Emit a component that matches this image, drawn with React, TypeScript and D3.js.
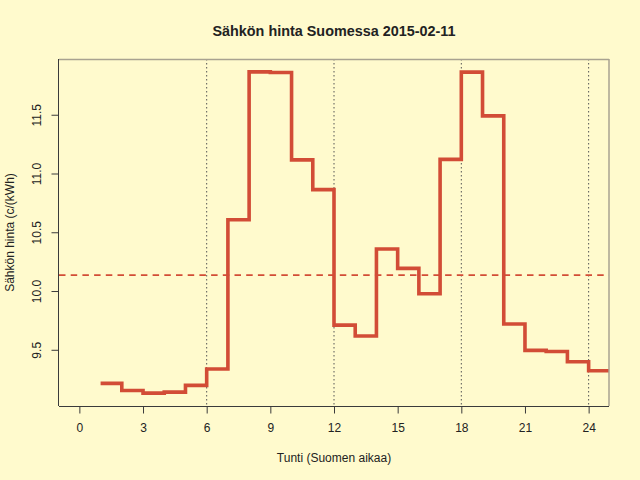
import React from 'react';
import * as d3 from 'd3';

// tunnit 1..24 ja hinta c/kWh
var hours = [1, 2, 3, 4, 5, 6, 7, 8, 9, 10, 11, 12, 13, 14, 15, 16, 17, 18, 19, 20, 21, 22, 23, 24];
var prices = [9.214, 9.154, 9.131, 9.140, 9.197, 9.336, 10.607, 11.865, 11.860, 11.116, 10.863, 9.710,
              9.617, 10.358, 10.193, 9.977, 11.120, 11.863, 11.490, 9.719, 9.495, 9.486, 9.398, 9.321];
var xTicks = [0, 3, 6, 9, 12, 15, 18, 21, 24];
var yTicks = [9.5, 10.0, 10.5, 11.0, 11.5];
var gridHours = [6, 12, 18, 24];

var titleText = 'Sähkön hinta Suomessa 2015-02-11';
var xLabel = 'Tunti (Suomen aikaa)';
var yLabel = 'Sähkön hinta (c/(kWh)';

class App extends React.Component {
    constructor(props: any) {
        super(props);
        this.createChart = this.createChart.bind(this);
    }

    componentDidMount() {
        this.createChart();
    }

    createChart() {
        var width = 640,
            height = 480,
            font = '"Liberation Sans", Arial, Helvetica, sans-serif',
            ink = '#222222',
            lineColor = '#d24c36';

        var margin = { left: 59, right: 31, top: 59, bottom: 74 };
        var x0 = margin.left, x1 = width - margin.right;
        var y0 = height - margin.bottom, y1 = margin.top;

        // R-tyylinen 4% laajennus
        var xr = [0, 24];
        var xpad = (xr[1] - xr[0]) * 0.04;
        var x = d3.scaleLinear().domain([xr[0] - xpad, xr[1] + xpad]).range([x0, x1]);

        var ext: any = d3.extent(prices);
        var ypad = (ext[1] - ext[0]) * 0.04;
        var y = d3.scaleLinear().domain([ext[0] - ypad, ext[1] + ypad]).range([y0, y1]);

        var svg = d3.select('#hintaChart').append('svg')
            .attr('width', width)
            .attr('height', height)
            .attr('viewBox', '0 0 ' + width + ' ' + height)
            .style('display', 'block');

        svg.append('rect')
            .attr('width', width).attr('height', height)
            .attr('fill', '#fffacd');

        svg.append('defs').append('clipPath').attr('id', 'plotClip')
            .append('rect')
            .attr('x', x0).attr('y', y1)
            .attr('width', x1 - x0).attr('height', y0 - y1);

        var plot = svg.append('g').attr('clip-path', 'url(#plotClip)');

        // pystyviivat
        plot.selectAll('.vgrid')
            .data(gridHours)
            .enter()
            .append('line')
            .attr('class', 'vgrid')
            .attr('x1', function(d: any) { return x(d); })
            .attr('x2', function(d: any) { return x(d); })
            .attr('y1', y1).attr('y2', y0)
            .attr('stroke', '#555555')
            .attr('stroke-width', 1)
            .attr('stroke-dasharray', '1.5,2.5');

        // keskiarvo
        var mean: any = d3.mean(prices);
        plot.append('line')
            .attr('x1', x0).attr('x2', x1)
            .attr('y1', y(mean)).attr('y2', y(mean))
            .attr('stroke', lineColor)
            .attr('stroke-width', 1.8)
            .attr('stroke-dasharray', '6.5,5.2');

        // porrasviiva, viimeinen tunti jatkuu reunaan asti
        var pts: any[] = hours.map(function(h, i) { return [h, prices[i]]; });
        pts.push([hours[hours.length - 1] + 1, prices[prices.length - 1]]);

        var line = d3.line()
            .x(function(d: any) { return x(d[0]); })
            .y(function(d: any) { return y(d[1]); })
            .curve(d3.curveStepAfter);

        plot.append('path')
            .datum(pts)
            .attr('d', line as any)
            .attr('fill', 'none')
            .attr('stroke', lineColor)
            .attr('stroke-width', 3.6)
            .attr('stroke-linejoin', 'miter')
            .attr('stroke-linecap', 'butt');

        // laatikko
        svg.append('line')
            .attr('x1', x0).attr('x2', x1).attr('y1', y1 + 0.5).attr('y2', y1 + 0.5)
            .attr('stroke', '#a8a290').attr('stroke-width', 1.5);
        svg.append('line')
            .attr('x1', x1).attr('x2', x1).attr('y1', y1).attr('y2', y0)
            .attr('stroke', '#a8a290').attr('stroke-width', 1.5);

        // akselit
        var xAxis = svg.append('g')
            .attr('transform', 'translate(0,' + (y0 + 0.5) + ')')
            .call(d3.axisBottom(x).tickValues(xTicks).tickSize(7).tickPadding(10).tickSizeOuter(0) as any);
        xAxis.select('.domain').attr('d', 'M' + x0 + ',0H' + x1);

        var yAxis = svg.append('g')
            .attr('transform', 'translate(' + (x0 - 0.5) + ',0)')
            .call(d3.axisLeft(y).tickValues(yTicks).tickSize(7).tickFormat(d3.format('.1f') as any).tickSizeOuter(0) as any);
        yAxis.select('.domain').attr('d', 'M0,' + y1 + 'V' + y0);

        svg.selectAll('.domain').attr('stroke', '#3a3a3a');
        svg.selectAll('.tick line').attr('stroke', '#3a3a3a');
        svg.selectAll('.tick text')
            .attr('fill', ink)
            .style('font-family', font)
            .style('font-size', '12px');

        // y-akselin luvut pystyyn kuten R:ssä
        yAxis.selectAll('.tick text')
            .attr('x', null).attr('dy', null)
            .attr('text-anchor', 'middle')
            .attr('transform', 'translate(-18,0) rotate(-90)')
            .attr('dy', '0');

        svg.append('text')
            .attr('x', (x0 + x1) / 2).attr('y', 36)
            .attr('text-anchor', 'middle')
            .style('font-family', font)
            .style('font-size', '14.4px')
            .style('font-weight', 'bold')
            .attr('fill', ink)
            .text(titleText);

        svg.append('text')
            .attr('x', (x0 + x1) / 2).attr('y', 462)
            .attr('text-anchor', 'middle')
            .style('font-family', font)
            .style('font-size', '12px')
            .attr('fill', ink)
            .text(xLabel);

        svg.append('text')
            .attr('transform', 'translate(14,' + ((y0 + y1) / 2) + ') rotate(-90)')
            .attr('text-anchor', 'middle')
            .style('font-family', font)
            .style('font-size', '12px')
            .attr('fill', ink)
            .text(yLabel);
    }

    render() {
        return <div id="hintaChart" style={{ position: 'absolute', left: 0, top: 0 }}></div>;
    }
}

export default App;
